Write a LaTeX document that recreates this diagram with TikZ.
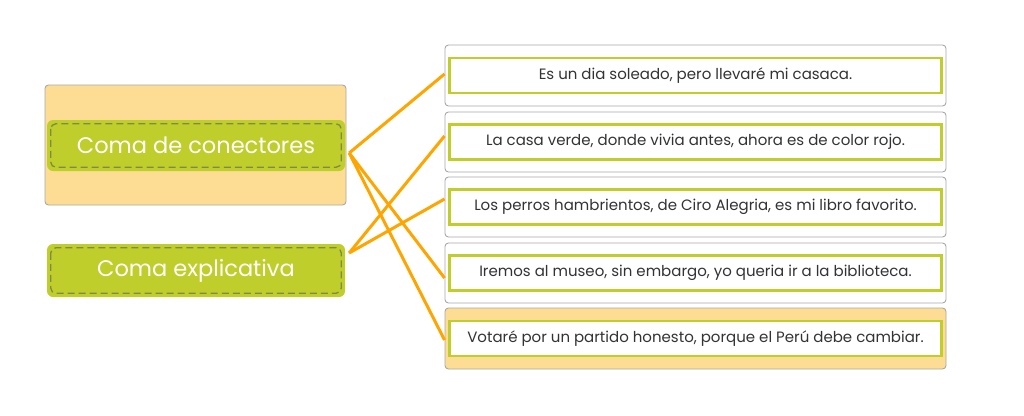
\documentclass[tikz,border=0pt]{standalone}
\usepackage{fontspec}
\setmainfont{Poppins}
\definecolor{lime}{HTML}{BFCE2B}
\definecolor{yell}{HTML}{FDDD93}
\definecolor{boxgray}{HTML}{A8A8A8}
\definecolor{dashc}{HTML}{7D8B45}
\definecolor{conn}{HTML}{FFA500}
\definecolor{txt}{HTML}{333333}
\begin{document}
\begin{tikzpicture}[x=1pt,y=-1pt,
  outerbox/.style={draw=boxgray, line width=0.9pt, rounded corners=3.5pt, fill=white, minimum width=501pt, inner sep=0pt},
  innerbox/.style={draw=lime, line width=2.8pt, fill=white, minimum width=492pt, minimum height=35pt, inner sep=0pt, font=\fontsize{15}{18}\selectfont, text=txt},
  greenlabel/.style={fill=lime, rounded corners=6pt, minimum width=298pt, inner sep=0pt, text=white, font=\fontsize{22.5}{26}\selectfont},
  dashin/.style={draw=dashc, line width=1.3pt, dash pattern=on 7pt off 4pt, rounded corners=5pt},
  link/.style={draw=conn, line width=3pt}]
\useasboundingbox (0,0) rectangle (1024,415);
% left
\node[outerbox, fill=yell, minimum width=301pt, minimum height=120pt] (lo) at (195.5,145) {};
\node[greenlabel, minimum height=51pt] (g1) at (196,145.5) {Coma de conectores};
\node[greenlabel, minimum height=53pt] (g2) at (196,270.5) {Coma explicativa};
\foreach \g in {g1,g2}
  \draw[dashin] ([shift={(4,4)}]\g.north west) rectangle ([shift={(-4,-4)}]\g.south east);
% right
\node[outerbox, minimum height=61pt] (b1) at (695.5,75.5) {};
\node[outerbox, minimum height=60pt] (b2) at (695.5,142) {};
\node[outerbox, minimum height=60pt] (b3) at (695.5,207) {};
\node[outerbox, minimum height=60pt] (b4) at (695.5,273) {};
\node[outerbox, fill=yell, minimum height=61pt] (b5) at (695.5,338.5) {};
\node[innerbox] (t1) at (b1) {Es un dia soleado, pero llevaré mi casaca.};
\node[innerbox] (t2) at (b2) {La casa verde, donde vivia antes, ahora es de color rojo.};
\node[innerbox] (t3) at (b3) {Los perros hambrientos, de Ciro Alegria, es mi libro favorito.};
\node[innerbox] (t4) at (b4) {Iremos al museo, sin embargo, yo queria ir a la biblioteca.};
\node[innerbox] (t5) at (b5) {Votaré por un partido honesto, porque el Perú debe cambiar.};
% connectors
\coordinate (s1) at ([shift={(4,7.5)}]g1.east);
\coordinate (s2) at ([shift={(4,-17.5)}]g2.east);
\draw[link] (s1) -- ([yshift=1.5]b1.west);
\draw[link] (s1) -- ([yshift=-5]b4.west);
\draw[link] (s1) -- ([yshift=-1.5]b5.west);
\draw[link] (s2) -- ([yshift=6]b2.west);
\draw[link] (s2) -- ([yshift=8]b3.west);
\end{tikzpicture}
\end{document}
